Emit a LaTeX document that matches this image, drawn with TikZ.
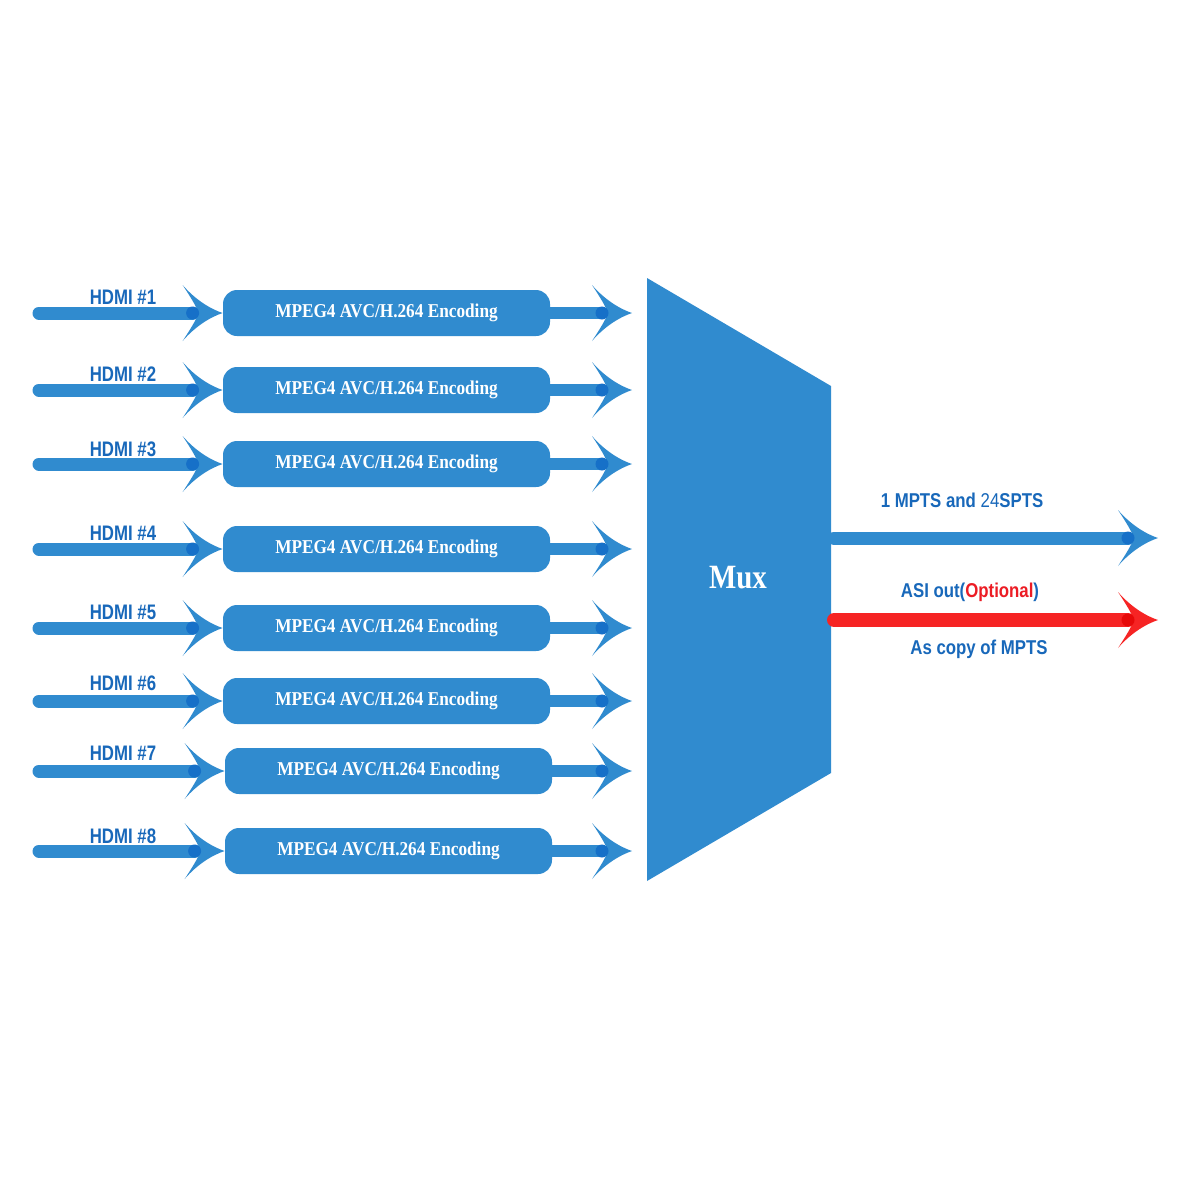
\documentclass[tikz,border=0pt]{standalone}
\usepackage{fontspec}
\setmainfont{Liberation Serif}
\setsansfont{Liberation Sans}
\usepackage{graphicx}
\definecolor{flowblue}{RGB}{48,139,207}
\definecolor{flowbluedark}{RGB}{22,112,200}
\definecolor{txtblue}{RGB}{24,104,186}
\definecolor{flowred}{RGB}{246,36,36}
\definecolor{flowreddark}{RGB}{230,10,10}
\definecolor{optred}{RGB}{236,28,36}
\tikzset{
  pics/ahead/.style 2 args={code={
    \fill[#1] (0,0) .. controls (-12,-4) and (-27,-13) .. (-40,-28)
      .. controls (-32,-16) and (-26,-6) .. (-24,0)
      .. controls (-26,6) and (-32,16) .. (-40,28)
      .. controls (-27,13) and (-12,4) .. (0,0) -- cycle;
    \fill[#2] (-30,0) circle [radius=6.5];
  }},
  flow/.style={line width=6.5pt, line cap=round, flowblue},
  encbox/.style={fill=flowblue, rounded corners=7pt, minimum width=163.5pt,
    minimum height=23pt, inner sep=0pt, text=white,
    font=\bfseries\fontsize{9.8}{11}\selectfont},
  hdmi/.style={text=txtblue, inner sep=0pt, font=\sffamily\bfseries\fontsize{10.5}{12}\selectfont},
  lbl/.style={text=txtblue, inner sep=0pt, font=\sffamily\bfseries\fontsize{10}{12}\selectfont},
}
\begin{document}
\begin{tikzpicture}[x=0.5pt,y=-0.5pt]
\fill[white] (0,0) rectangle (1200,1200);
\useasboundingbox (0,0) rectangle (1200,1200);
% mux
\fill[flowblue] (647,278) coordinate (mtl) -- (831,386) coordinate (mtr)
  -- (831,773) coordinate (mbr) -- (647,881) coordinate (mbl) -- cycle;
\node[text=white, inner sep=0pt, font=\bfseries\fontsize{17}{20}\selectfont] (mux) at (738,578) {\scalebox{0.85}[1]{Mux}};
% rows
\foreach \i/\y/\ly/\dx in {1/313/297/0, 2/390/374/0, 3/464/449/0, 4/549/533/0, 5/628/612/0, 6/701/683/0, 7/771/753/2, 8/851/836/2}{
  \coordinate (in\i) at (39,\y);
  \node[encbox] (enc\i) at (386.5+\dx,\y) {\scalebox{0.88}[1]{MPEG4 AVC/H.264 Encoding}};
  \coordinate (mi\i) at (632,\y);
  \node[hdmi] (h\i) at (123,\ly) {\scalebox{0.8}[1]{HDMI \#\i}};
  \draw[flow, shorten >=15pt] (in\i) -- (enc\i.west);
  \pic at (enc\i.west) {ahead={flowblue}{flowbluedark}};
  \draw[flow, line width=6pt, shorten >=15pt] (enc\i.east) -- (mi\i);
  \pic at (mi\i) {ahead={flowblue}{flowbluedark}};
}
% outputs
\coordinate (ob0) at (834,538);
\coordinate (ob1) at (1158,538);
\coordinate (or0) at (834,620);
\coordinate (or1) at (1158,620);
\draw[flow, shorten >=15pt] (ob0) -- (ob1);
\pic at (ob1) {ahead={flowblue}{flowbluedark}};
\draw[flow, flowred, line width=7pt, shorten >=15pt] (or0) -- (or1);
\pic at (or1) {ahead={flowred}{flowreddark}};
\node[lbl] (t1) at (962,500) {\scalebox{0.84}[1]{1 MPTS and {\mdseries 24}SPTS}};
\node[lbl] (t2) at (970,592) {\scalebox{0.84}[1]{ASI out({\color{optred}Optional})}};
\node[lbl] (t3) at (979,649) {\scalebox{0.84}[1]{As copy of MPTS}};
\end{tikzpicture}
\end{document}
